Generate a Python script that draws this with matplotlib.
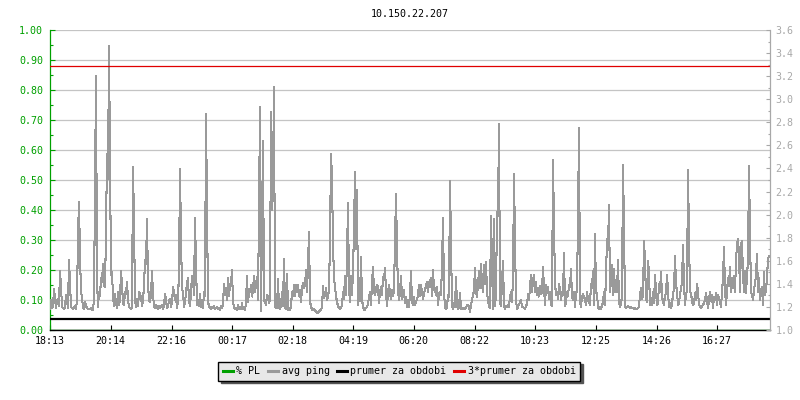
import numpy as np
import matplotlib.pyplot as plt
from matplotlib.ticker import MultipleLocator, FormatStrFormatter

plt.rcParams['font.family'] = ['DejaVu Sans Mono']
plt.rcParams['font.size'] = 7.2

title = '10.150.22.207'
start = '18:13'
step_min = 2   # one sample every 2 minutes
tick_labels = ['18:13', '20:14', '22:16', '00:17', '02:18', '04:19',
               '06:20', '08:22', '10:23', '12:25', '14:26', '16:27']

# avg ping in hundredths (right axis)
ping_raw = [
    118, 126, 119, 120, 136, 127, 119, 126, 127, 121, 151, 138, 120, 119, 118, 120, 130, 126, 119, 161,
    140, 120, 119, 118, 119, 121, 118, 126, 183, 211, 164, 133, 129, 119, 118, 124, 121, 119, 118, 118,
    118, 119, 117, 118, 126, 223, 320, 145, 120, 133, 129, 145, 142, 157, 138, 137, 185, 253, 231, 346,
    246, 148, 150, 129, 121, 131, 123, 119, 133, 122, 126, 151, 140, 123, 122, 133, 131, 142, 126, 120,
    119, 118, 119, 241, 194, 126, 120, 127, 121, 133, 131, 129, 121, 126, 138, 161, 157, 196, 140, 126,
    124, 131, 151, 130, 121, 119, 122, 120, 118, 121, 119, 120, 122, 118, 121, 131, 126, 119, 120, 126,
    127, 120, 124, 137, 133, 126, 130, 119, 126, 151, 240, 179, 136, 133, 120, 124, 133, 141, 145, 125,
    121, 133, 147, 145, 130, 197, 157, 122, 126, 121, 131, 120, 126, 119, 133, 129, 287, 203, 124, 121,
    119, 118, 120, 119, 121, 118, 119, 120, 118, 119, 117, 121, 119, 122, 140, 130, 136, 126, 145, 129,
    139, 141, 152, 125, 119, 118, 119, 117, 122, 118, 120, 118, 123, 118, 119, 117, 124, 147, 124, 133,
    133, 139, 129, 135, 147, 133, 140, 146, 126, 204, 293, 116, 191, 264, 125, 124, 122, 130, 129, 123,
    127, 289, 204, 230, 311, 120, 119, 119, 144, 119, 118, 121, 133, 121, 162, 119, 118, 149, 118, 117,
    117, 121, 133, 129, 139, 129, 139, 133, 139, 129, 135, 124, 136, 141, 136, 139, 152, 133, 157, 185,
    125, 120, 118, 117, 118, 117, 116, 115, 115, 116, 117, 118, 119, 138, 128, 131, 136, 126, 129, 135,
    178, 253, 231, 175, 145, 137, 130, 124, 121, 119, 118, 120, 121, 133, 127, 147, 130, 164, 210, 136,
    124, 147, 130, 151, 187, 237, 170, 221, 122, 145, 125, 163, 126, 121, 117, 118, 119, 120, 122, 129,
    133, 122, 140, 155, 133, 130, 136, 139, 138, 123, 133, 137, 130, 146, 143, 154, 133, 121, 133, 139,
    132, 127, 135, 129, 135, 177, 218, 170, 135, 126, 133, 147, 127, 130, 135, 123, 129, 120, 126, 120,
    131, 151, 124, 122, 129, 122, 125, 126, 130, 139, 129, 139, 133, 127, 132, 135, 138, 142, 133, 141,
    143, 145, 129, 152, 135, 136, 130, 137, 122, 131, 133, 130, 157, 197, 133, 120, 118, 120, 130, 129,
    229, 174, 121, 118, 123, 120, 146, 121, 118, 120, 132, 118, 118, 119, 118, 118, 120, 121, 122, 120,
    116, 122, 126, 130, 134, 154, 132, 129, 140, 151, 136, 157, 140, 133, 156, 140, 159, 133, 125, 121,
    119, 199, 159, 118, 196, 121, 130, 202, 199, 279, 124, 121, 140, 160, 121, 118, 121, 120, 122, 120,
    129, 133, 124, 145, 235, 177, 126, 118, 120, 122, 124, 126, 120, 120, 119, 118, 121, 122, 131, 126,
    137, 148, 133, 143, 148, 133, 142, 130, 136, 129, 138, 131, 133, 155, 136, 122, 139, 135, 137, 127,
    133, 122, 121, 247, 190, 141, 130, 133, 127, 140, 136, 126, 133, 130, 167, 121, 123, 133, 129, 139,
    137, 153, 129, 126, 133, 120, 131, 135, 197, 275, 124, 120, 129, 131, 129, 126, 122, 133, 126, 124,
    122, 140, 138, 151, 122, 183, 133, 131, 120, 118, 120, 118, 121, 124, 133, 122, 148, 179, 172, 208,
    133, 143, 156, 130, 153, 133, 143, 133, 161, 124, 120, 122, 130, 243, 189, 120, 119, 120, 121, 120,
    119, 120, 119, 119, 118, 119, 118, 118, 119, 120, 131, 136, 127, 129, 177, 161, 127, 124, 160, 149,
    122, 124, 122, 133, 123, 148, 133, 122, 123, 140, 133, 150, 130, 124, 122, 129, 132, 148, 133, 120,
    123, 119, 122, 132, 135, 164, 140, 133, 122, 123, 132, 135, 142, 174, 140, 122, 132, 133, 239, 179,
    133, 132, 125, 122, 123, 132, 126, 140, 133, 122, 120, 119, 120, 122, 123, 126, 132, 125, 119, 126,
    133, 125, 130, 119, 129, 126, 132, 122, 130, 127, 124, 120, 132, 145, 172, 135, 122, 133, 145, 138,
    155, 133, 145, 136, 147, 133, 160, 174, 179, 166, 133, 175, 177, 148, 133, 151, 132, 147, 160, 242,
    183, 133, 130, 126, 135, 140, 148, 166, 133, 145, 126, 133, 137, 122, 150, 130, 135, 145, 162, 164,
]
pl_level = 0.0      # % PL stayed at zero the whole period
prumer = 1.097      # average ping over the period

GREEN = '#00a000'
PING = '#9a9a9a'
RAXIS = '#a8a8a8'
GRID = '#c4c4c4'
RED = '#e00000'


def to_min(s):
    h, m = map(int, s.split(':'))
    h0, m0 = map(int, start.split(':'))
    return ((h * 60 + m) - (h0 * 60 + m0)) % 1440


ping = np.array(ping_raw) / 100.0
t = np.arange(len(ping)) * step_min
pl = np.full(len(ping), pl_level)

fig = plt.figure(figsize=(8, 4), dpi=100)
ax = fig.add_axes([50 / 800, 70 / 400, 720 / 800, 300 / 400])
ax2 = ax.twinx()

# left axis (% PL)
ax.set_xlim(0, len(ping) * step_min)
ax.set_ylim(0, 1)
ax.yaxis.set_major_locator(MultipleLocator(0.1))
ax.yaxis.set_minor_locator(MultipleLocator(0.05))
ax.yaxis.set_major_formatter(FormatStrFormatter('%.2f'))
ax.grid(axis='y', color=GRID, lw=0.9)
ax.tick_params(axis='y', which='major', colors=GREEN, direction='in',
               length=3.6, width=0.8, pad=5)
ax.tick_params(axis='y', which='minor', colors=GREEN, direction='in',
               length=2.2, width=0.8)
ax.spines['left'].set_color(GREEN)
ax.spines['left'].set_linewidth(0.9)
ax.spines['bottom'].set_linewidth(1.0)
ax.spines['top'].set_visible(False)
ax.spines['right'].set_visible(False)
ax.set_xticks([to_min(s) for s in tick_labels], tick_labels)
ax.tick_params(axis='x', direction='in', length=3.6, width=0.8, pad=4)
l_pl, = ax.plot(t, pl, color=GREEN, lw=1, label='% PL')

# right axis (avg ping)
ax2.set_ylim(1.0, 3.6)
ax2.yaxis.set_major_locator(MultipleLocator(0.2))
ax2.yaxis.set_minor_locator(MultipleLocator(0.1))
ax2.yaxis.set_major_formatter(FormatStrFormatter('%.1f'))
ax2.tick_params(axis='y', which='major', colors=RAXIS, direction='in',
                length=3, width=0.8, pad=4)
ax2.tick_params(axis='y', which='minor', colors=RAXIS, direction='in',
                length=1.6, width=0.8)
for side in ['top', 'left', 'bottom']:
    ax2.spines[side].set_visible(False)
ax2.spines['right'].set_color(RAXIS)
ax2.spines['right'].set_linewidth(0.9)

l_ping, = ax2.plot(t, ping, color=PING, lw=0.75, antialiased=False,
                   label='avg ping')
l_avg = ax2.axhline(prumer, color='black', lw=1.6, label='prumer za obdobi')
l_avg3 = ax2.axhline(3 * prumer, color=RED, lw=0.9,
                     label='3*prumer za obdobi')

fig.text(410 / 800, 1 - 14 / 400, title, ha='center', va='center')

handles = [l_pl, l_ping, l_avg, l_avg3]
leg = fig.legend(handles, [h.get_label() for h in handles],
                 loc='center', bbox_to_anchor=(399 / 800, 1 - 371 / 400),
                 ncol=4, fancybox=False, framealpha=1,
                 shadow={'color': '#555555', 'alpha': 1},
                 edgecolor='black', facecolor='#e8e8e8',
                 handlelength=1.0, handletextpad=0.4, columnspacing=0.7,
                 borderpad=0.45)
leg.get_frame().set_linewidth(1.0)
for h in leg.legend_handles:
    h.set_linewidth(2.2)

fig.savefig('out.png', dpi=100)
